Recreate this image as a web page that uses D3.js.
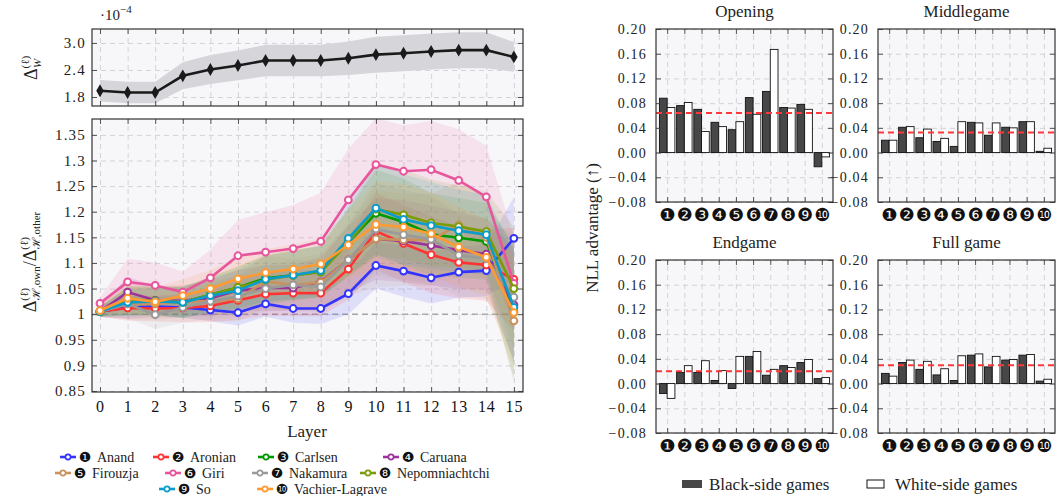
<!DOCTYPE html>
<html>
<head>
<meta charset="utf-8">
<script src="https://cdn.jsdelivr.net/npm/d3@7"></script>
<style>
  body { margin: 0; background: #fff; }
  text { font-family: "Liberation Serif", serif; fill: #222; }
</style>
</head>
<body>
<svg id="chart" width="1056" height="496"></svg>
<script>
// ---- data ----
const layers = [0, 1, 2, 3, 4, 5, 6, 7, 8, 9, 10, 11, 12, 13, 14, 15]

// weight-change magnitude (x 1e-4)
const wDelta  = [1.94, 1.90, 1.90, 2.27, 2.41, 2.50, 2.61, 2.61, 2.61, 2.66, 2.74, 2.77, 2.81, 2.84, 2.84, 2.69]
const wSpread = [0.24, 0.24, 0.24, 0.30, 0.32, 0.33, 0.35, 0.35, 0.35, 0.37, 0.40, 0.40, 0.40, 0.40, 0.40, 0.33]

const players = ["Anand", "Aronian", "Carlsen", "Caruana", "Firouzja", "Giri", "Nakamura", "Nepomniachtchi", "So", "Vachier-Lagrave"]
const marks = ["\u2776", "\u2777", "\u2778", "\u2779", "\u277A", "\u277B", "\u277C", "\u277D", "\u277E", "\u277F"]
const colors = ["#3333ff", "#ff3333", "#009a00", "#9b339b", "#c8925e", "#e8559c", "#9a9a9a", "#7b9c05", "#0a9ccc", "#ff9a33"]

// own / other ratio per layer
const anand    = [1.005, 1.013, 1.015, 1.013, 1.008, 1.003, 1.020, 1.011, 1.011, 1.040, 1.095, 1.084, 1.071, 1.082, 1.085, 1.148]
const aronian  = [1.005, 1.012, 1.011, 1.012, 1.016, 1.027, 1.039, 1.041, 1.041, 1.088, 1.162, 1.138, 1.116, 1.101, 1.096, 1.068]
const carlsen  = [1.005, 1.026, 1.026, 1.023, 1.038, 1.052, 1.070, 1.076, 1.083, 1.140, 1.197, 1.180, 1.156, 1.149, 1.142, 1.004]
const caruana  = [1.005, 1.043, 1.027, 1.026, 1.031, 1.046, 1.051, 1.051, 1.063, 1.106, 1.147, 1.143, 1.134, 1.125, 1.117, 1.018]
const firouzja = [1.005, 1.020, 1.020, 1.025, 1.025, 1.030, 1.064, 1.057, 1.062, 1.106, 1.147, 1.145, 1.145, 1.174, 1.150, 0.987]
const giri     = [1.021, 1.063, 1.056, 1.043, 1.071, 1.114, 1.121, 1.128, 1.142, 1.223, 1.292, 1.279, 1.282, 1.261, 1.229, 1.060]
const nakamura = [1.005, 1.020, 0.999, 1.013, 1.025, 1.035, 1.050, 1.057, 1.053, 1.106, 1.166, 1.155, 1.146, 1.115, 1.108, 1.033]
const nepo     = [1.005, 1.026, 1.026, 1.023, 1.038, 1.052, 1.067, 1.076, 1.082, 1.140, 1.205, 1.194, 1.178, 1.171, 1.161, 1.050]
const so       = [1.005, 1.023, 1.025, 1.023, 1.036, 1.046, 1.068, 1.076, 1.085, 1.148, 1.207, 1.185, 1.173, 1.163, 1.155, 1.013]
const mvl      = [1.007, 1.031, 1.024, 1.036, 1.050, 1.069, 1.081, 1.088, 1.098, 1.135, 1.175, 1.170, 1.157, 1.131, 1.111, 1.003]

// half-width of the shaded band
const anandSpread    = [0.010, 0.022, 0.020, 0.020, 0.022, 0.025, 0.025, 0.028, 0.030, 0.040, 0.045, 0.050, 0.050, 0.050, 0.050, 0.080]
const aronianSpread  = [0.010, 0.025, 0.025, 0.028, 0.032, 0.038, 0.042, 0.045, 0.045, 0.060, 0.075, 0.075, 0.075, 0.070, 0.070, 0.100]
const carlsenSpread  = [0.010, 0.028, 0.028, 0.030, 0.035, 0.040, 0.045, 0.048, 0.050, 0.065, 0.085, 0.085, 0.080, 0.078, 0.075, 0.130]
const caruanaSpread  = [0.010, 0.030, 0.028, 0.030, 0.035, 0.040, 0.045, 0.045, 0.048, 0.065, 0.080, 0.080, 0.078, 0.075, 0.070, 0.110]
const firouzjaSpread = [0.010, 0.030, 0.030, 0.032, 0.038, 0.045, 0.050, 0.052, 0.055, 0.070, 0.095, 0.090, 0.090, 0.085, 0.080, 0.120]
const giriSpread     = [0.012, 0.045, 0.045, 0.040, 0.055, 0.070, 0.078, 0.085, 0.095, 0.100, 0.090, 0.090, 0.095, 0.100, 0.100, 0.090]
const nakamuraSpread = [0.010, 0.028, 0.028, 0.030, 0.035, 0.040, 0.045, 0.048, 0.050, 0.070, 0.090, 0.088, 0.085, 0.080, 0.078, 0.120]
const nepoSpread     = [0.010, 0.028, 0.028, 0.030, 0.035, 0.042, 0.048, 0.050, 0.050, 0.068, 0.090, 0.088, 0.085, 0.080, 0.078, 0.120]
const soSpread       = [0.010, 0.026, 0.026, 0.030, 0.034, 0.040, 0.045, 0.047, 0.050, 0.070, 0.090, 0.088, 0.085, 0.080, 0.078, 0.110]
const mvlSpread      = [0.010, 0.030, 0.028, 0.032, 0.036, 0.042, 0.046, 0.048, 0.050, 0.065, 0.085, 0.085, 0.080, 0.078, 0.075, 0.110]

const ratios  = [anand, aronian, carlsen, caruana, firouzja, giri, nakamura, nepo, so, mvl]
const spreads = [anandSpread, aronianSpread, carlsenSpread, caruanaSpread, firouzjaSpread, giriSpread, nakamuraSpread, nepoSpread, soSpread, mvlSpread]

// NLL advantage per game phase
const phases = ["Opening", "Middlegame", "Endgame", "Full game"]
const openingBlack    = [0.088, 0.076, 0.070, 0.049, 0.037, 0.089, 0.099, 0.073, 0.078, -0.023]
const openingWhite    = [0.073, 0.081, 0.034, 0.042, 0.050, 0.062, 0.167, 0.072, 0.070, -0.007]
const middlegameBlack = [0.020, 0.041, 0.024, 0.018, 0.010, 0.049, 0.028, 0.041, 0.050, 0.002]
const middlegameWhite = [0.020, 0.042, 0.038, 0.023, 0.050, 0.048, 0.048, 0.040, 0.050, 0.007]
const endgameBlack    = [-0.016, 0.018, 0.018, 0.005, -0.008, 0.044, 0.0135, 0.029, 0.034, 0.008]
const endgameWhite    = [-0.024, 0.029, 0.037, 0.021, 0.044, 0.052, 0.023, 0.026, 0.039, 0.0097]
const fullBlack       = [0.0165, 0.034, 0.023, 0.014, 0.005, 0.046, 0.027, 0.038, 0.046, 0.004]
const fullWhite       = [0.012, 0.038, 0.036, 0.024, 0.045, 0.048, 0.044, 0.039, 0.047, 0.007]
const phaseMeans      = [0.064, 0.0325, 0.020, 0.0296]

const barTicks = [-0.08, -0.04, 0.00, 0.04, 0.08, 0.12, 0.16, 0.20]
const categories = [1, 2, 3, 4, 5, 6, 7, 8, 9, 10]

// ---- drawing ----
const svg = d3.select('#chart')
const bg = '#f7f6f9'
const serif = '"Liberation Serif", serif'
const dingbat = '"DejaVu Sans", sans-serif'

function styleGrid(s) {
    s.select('.domain').remove()
    s.selectAll('line').attr('stroke', '#d4d2d8').attr('stroke-dasharray', '5,4')
}

function panelBase(x, y, xTicks, yTicks) {
    const [x0, x1] = x.range(), [y1, y0] = y.range()
    const g = svg.append('g')
    g.append('rect').attr('x', x0).attr('y', y0).attr('width', x1 - x0).attr('height', y1 - y0).attr('fill', bg)
    g.append('g').attr('transform', 'translate(0,' + y1 + ')')
        .call(d3.axisBottom(x).tickValues(xTicks).tickSize(-(y1 - y0)).tickFormat(''))
        .call(styleGrid)
    g.append('g').attr('transform', 'translate(' + x0 + ',0)')
        .call(d3.axisLeft(y).tickValues(yTicks).tickSize(-(x1 - x0)).tickFormat(''))
        .call(styleGrid)
    return g
}

function panelFrame(x, y, xTicks, yTicks, o) {
    const [x0, x1] = x.range(), [y1, y0] = y.range()
    const g = svg.append('g')
    const clean = s => {
        s.select('.domain').remove()
        s.selectAll('line').attr('stroke', '#444').attr('stroke-width', 0.9)
    }
    g.append('g').attr('transform', 'translate(0,' + y1 + ')')
        .call(d3.axisBottom(x).tickValues(xTicks).tickSize(-5).tickPadding(o.xPad || 9).tickFormat(o.xFmt || (() => '')))
        .call(clean)
        .selectAll('text')
        .style('font-family', o.xFont || serif).style('font-size', (o.xSize || 16) + 'px')
        .style('letter-spacing', (o.xLs || 0) + 'px').style('fill', '#111')
    g.append('g').attr('transform', 'translate(0,' + y0 + ')')
        .call(d3.axisTop(x).tickValues(xTicks).tickSize(-5).tickFormat(''))
        .call(clean)
    g.append('g').attr('transform', 'translate(' + x0 + ',0)')
        .call(d3.axisLeft(y).tickValues(yTicks).tickSize(-5).tickPadding(o.yPad || 6).tickFormat(o.yFmt || (() => '')))
        .call(clean)
        .selectAll('text')
        .style('font-family', serif).style('font-size', (o.ySize || 15) + 'px')
        .style('letter-spacing', (o.yLs || 0) + 'px').style('fill', '#222')
    g.append('g').attr('transform', 'translate(' + x1 + ',0)')
        .call(d3.axisRight(y).tickValues(yTicks).tickSize(-5).tickFormat(''))
        .call(clean)
    g.append('rect').attr('x', x0).attr('y', y0).attr('width', x1 - x0).attr('height', y1 - y0)
        .attr('fill', 'none').attr('stroke', '#333').attr('stroke-width', 1.2)
}

// ---- top-left: weight change ----
const xTop = d3.scaleLinear().domain([-0.29, 15.33]).range([92, 523])
const yTop = d3.scaleLinear().domain([1.6, 3.31]).range([106, 29])
panelBase(xTop, yTop, layers, [1.8, 2.4, 3.0])
svg.append('path')
    .attr('d', d3.area().x((d, i) => xTop(layers[i])).y0((d, i) => yTop(d - wSpread[i])).y1((d, i) => yTop(d + wSpread[i]))(wDelta))
    .attr('fill', '#d6d5da')
svg.append('path')
    .attr('d', d3.line().x((d, i) => xTop(layers[i])).y(d => yTop(d))(wDelta))
    .attr('fill', 'none').attr('stroke', '#1a1a1a').attr('stroke-width', 2.6)
svg.selectAll('.wmark').data(wDelta).enter().append('path')
    .attr('transform', (d, i) => 'translate(' + xTop(layers[i]) + ',' + yTop(d) + ')')
    .attr('d', d3.symbol(d3.symbolDiamond).size(48))
    .attr('fill', '#1a1a1a')
panelFrame(xTop, yTop, layers, [1.8, 2.4, 3.0], { yFmt: d3.format('.1f'), yLs: 1.2 })

svg.append('text').attr('x', 100).attr('y', 20).attr('font-size', 15)
    .text('\u00B710').append('tspan').attr('dy', -7).attr('font-size', 11).text('\u22124')

const wLabel = svg.append('text').attr('transform', 'translate(37,68) rotate(-90)')
    .attr('text-anchor', 'middle').attr('font-size', 18)
wLabel.append('tspan').text('\u0394')
wLabel.append('tspan').attr('font-size', 11).attr('dy', -8).text('(\u2113)')
wLabel.append('tspan').attr('font-size', 11).attr('dx', -12).attr('dy', 12).attr('font-style', 'italic').text('W')

// ---- main: own / other ratio ----
const xMain = d3.scaleLinear().domain([-0.29, 15.33]).range([92, 523])
const yMain = d3.scaleLinear().domain([0.848, 1.381]).range([392, 119])
const ratioTicks = [0.85, 0.9, 0.95, 1, 1.05, 1.1, 1.15, 1.2, 1.25, 1.3, 1.35]
panelBase(xMain, yMain, layers, ratioTicks)

svg.append('clipPath').attr('id', 'mainClip').append('rect')
    .attr('x', 92).attr('y', 119).attr('width', 431).attr('height', 273)
const mainG = svg.append('g').attr('clip-path', 'url(#mainClip)')

mainG.append('line').attr('x1', 92).attr('x2', 523).attr('y1', yMain(1)).attr('y2', yMain(1))
    .attr('stroke', '#8a8a8a').attr('stroke-dasharray', '6,4').attr('stroke-width', 1)

ratios.forEach((vals, k) => {
    const spr = spreads[k]
    mainG.append('path')
        .attr('d', d3.area().x((d, i) => xMain(layers[i])).y0((d, i) => yMain(d - spr[i])).y1((d, i) => yMain(d + spr[i]))(vals))
        .attr('fill', colors[k]).attr('fill-opacity', 0.12)
})
ratios.forEach((vals, k) => {
    mainG.append('path')
        .attr('d', d3.line().x((d, i) => xMain(layers[i])).y(d => yMain(d))(vals))
        .attr('fill', 'none').attr('stroke', colors[k]).attr('stroke-width', 2.6)
    mainG.selectAll('.m' + k).data(vals).enter().append('circle')
        .attr('cx', (d, i) => xMain(layers[i])).attr('cy', d => yMain(d)).attr('r', 3.4)
        .attr('fill', '#fff').attr('stroke', colors[k]).attr('stroke-width', 2)
})
panelFrame(xMain, yMain, layers, ratioTicks, {
    xFmt: d3.format('d'), xLs: 0.8,
    yFmt: d => String(+d.toFixed(2)), yLs: 1.2
})

svg.append('text').attr('x', 307).attr('y', 437).attr('text-anchor', 'middle').attr('font-size', 17).text('Layer')

const rLabel = svg.append('text').attr('transform', 'translate(36,262) rotate(-90)')
    .attr('text-anchor', 'middle').attr('font-size', 18)
rLabel.append('tspan').text('\u0394')
rLabel.append('tspan').attr('font-size', 11).attr('dy', -8).text('(\u2113)')
rLabel.append('tspan').attr('font-size', 11).attr('dx', -12).attr('dy', 12).text('\u210B,own')
rLabel.append('tspan').attr('dy', -4).text('/\u0394')
rLabel.append('tspan').attr('font-size', 11).attr('dy', -8).text('(\u2113)')
rLabel.append('tspan').attr('font-size', 11).attr('dx', -12).attr('dy', 12).text('\u210B,other')

// legend (layout slots)
const legendSlots = [[60, 457], [153, 457], [258, 457], [383, 457], [55, 473], [165, 473], [252, 473], [360, 473], [159, 489], [257, 489]]
players.forEach((p, k) => {
    const [lx, ly] = legendSlots[k]
    const g = svg.append('g')
    g.append('line').attr('x1', lx).attr('x2', lx + 16).attr('y1', ly).attr('y2', ly)
        .attr('stroke', colors[k]).attr('stroke-width', 2.6)
    g.append('circle').attr('cx', lx + 8).attr('cy', ly).attr('r', 2.6)
        .attr('fill', '#fff').attr('stroke', colors[k]).attr('stroke-width', 1.6)
    g.append('text').attr('x', lx + 25).attr('y', ly + 5).attr('text-anchor', 'middle')
        .style('font-family', dingbat).style('font-size', '14px').style('fill', '#111').text(marks[k])
    g.append('text').attr('x', lx + 37).attr('y', ly + 4.5).style('font-size', '14px').text(p)
})

// ---- right: bar panels ----
const barPanels = [
    { title: phases[0], black: openingBlack, white: openingWhite, mean: phaseMeans[0], x: [656, 833], y: [202, 29] },
    { title: phases[1], black: middlegameBlack, white: middlegameWhite, mean: phaseMeans[1], x: [878, 1055], y: [202, 29] },
    { title: phases[2], black: endgameBlack, white: endgameWhite, mean: phaseMeans[2], x: [656, 833], y: [433, 260] },
    { title: phases[3], black: fullBlack, white: fullWhite, mean: phaseMeans[3], x: [878, 1055], y: [433, 260] }
]

barPanels.forEach(pnl => {
    const x = d3.scaleLinear().domain([0.35, 10.65]).range(pnl.x)
    const y = d3.scaleLinear().domain([-0.08, 0.20]).range(pnl.y)
    panelBase(x, y, categories, barTicks)
    const g = svg.append('g')
    g.append('line').attr('x1', pnl.x[0]).attr('x2', pnl.x[1]).attr('y1', y(0)).attr('y2', y(0))
        .attr('stroke', '#c8c6cc').attr('stroke-width', 1)
    const bw = x(1.45) - x(1)
    g.selectAll('.b').data(pnl.black).enter().append('rect')
        .attr('x', (d, i) => x(categories[i]) - bw).attr('width', bw)
        .attr('y', d => y(Math.max(d, 0))).attr('height', d => Math.abs(y(d) - y(0)))
        .attr('fill', '#474747').attr('stroke', '#111').attr('stroke-width', 0.9)
    g.selectAll('.w').data(pnl.white).enter().append('rect')
        .attr('x', (d, i) => x(categories[i])).attr('width', bw)
        .attr('y', d => y(Math.max(d, 0))).attr('height', d => Math.abs(y(d) - y(0)))
        .attr('fill', '#fff').attr('stroke', '#111').attr('stroke-width', 0.9)
    g.append('line').attr('x1', pnl.x[0]).attr('x2', pnl.x[1]).attr('y1', y(pnl.mean)).attr('y2', y(pnl.mean))
        .attr('stroke', '#ff3838').attr('stroke-width', 2).attr('stroke-dasharray', '6,4')
    panelFrame(x, y, categories, barTicks, {
        xFmt: (d, i) => marks[i], xFont: dingbat, xSize: 18, xPad: 6,
        yFmt: d3.format('.2f'), ySize: 14, yLs: 1.2, yPad: 9
    })
    svg.append('text').attr('x', (pnl.x[0] + pnl.x[1]) / 2).attr('y', pnl.y[1] - 12)
        .attr('text-anchor', 'middle').attr('font-size', 17).text(pnl.title)
})

svg.append('text').attr('transform', 'translate(598,228) rotate(-90)')
    .attr('text-anchor', 'middle').attr('font-size', 17).text('NLL advantage (\u2191)')

// bottom legend
svg.append('rect').attr('x', 682).attr('y', 480).attr('width', 20).attr('height', 8).attr('fill', '#474747')
svg.append('text').attr('x', 709).attr('y', 490).attr('font-size', 17).text('Black-side games')
svg.append('rect').attr('x', 867).attr('y', 480).attr('width', 17).attr('height', 8)
    .attr('fill', '#fff').attr('stroke', '#111').attr('stroke-width', 1)
svg.append('text').attr('x', 895).attr('y', 490).attr('font-size', 17).text('White-side games')
</script>
</body>
</html>
